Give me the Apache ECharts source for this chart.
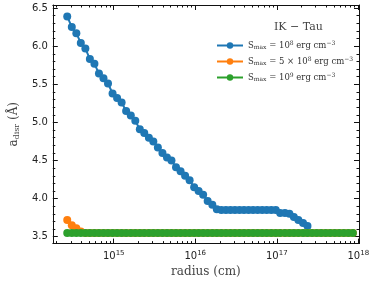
<!DOCTYPE html>
<html><head><meta charset="utf-8">
<script src="https://cdn.jsdelivr.net/npm/echarts@6/dist/echarts.min.js"></script>
<style>html,body{margin:0;padding:0;background:#fff}#c{width:374px;height:283px}</style>
</head><body><div id="c"></div>
<script>
var radius = [2.69e14, 3.06e14, 3.48e14, 3.95e14, 4.49e14, 5.10e14, 5.80e14, 6.59e14, 7.49e14, 8.51e14,
  9.68e14, 1.10e15, 1.25e15, 1.42e15, 1.62e15, 1.84e15, 2.09e15, 2.37e15, 2.70e15, 3.06e15,
  3.48e15, 3.96e15, 4.50e15, 5.11e15, 5.81e15, 6.61e15, 7.51e15, 8.53e15, 9.70e15, 1.10e16,
  1.25e16, 1.42e16, 1.62e16, 1.84e16, 2.09e16, 2.38e16, 2.70e16, 3.07e16, 3.49e16, 3.96e16,
  4.51e16, 5.12e16, 5.82e16, 6.62e16, 7.52e16, 8.55e16, 9.72e16, 1.10e17, 1.26e17, 1.43e17,
  1.62e17, 1.84e17, 2.10e17, 2.38e17, 2.71e17, 3.08e17, 3.50e17, 3.98e17, 4.52e17, 5.14e17,
  5.84e17, 6.64e17, 7.55e17, 8.58e17];
var adisr_1e8 = [6.39, 6.25, 6.17, 6.04, 5.97, 5.83, 5.77, 5.64, 5.58, 5.51,
  5.38, 5.32, 5.26, 5.15, 5.09, 5.02, 4.91, 4.86, 4.80, 4.75,
  4.67, 4.60, 4.54, 4.50, 4.41, 4.36, 4.30, 4.24, 4.15, 4.10,
  4.05, 3.97, 3.92, 3.86, 3.85, 3.85, 3.85, 3.85, 3.85, 3.85,
  3.85, 3.85, 3.85, 3.85, 3.85, 3.85, 3.85, 3.81, 3.81, 3.80,
  3.76, 3.72, 3.68, 3.64];
var adisr_5e8 = [3.72, 3.65, 3.61, 3.57, 3.55, 3.55, 3.55, 3.55, 3.55, 3.55,
  3.55, 3.55, 3.55, 3.55, 3.55, 3.55, 3.55, 3.55, 3.55, 3.55,
  3.55, 3.55, 3.55, 3.55, 3.55, 3.55, 3.55, 3.55, 3.55, 3.55,
  3.55, 3.55, 3.55, 3.55, 3.55, 3.55, 3.55, 3.55, 3.55, 3.55,
  3.55, 3.55, 3.55, 3.55, 3.55, 3.55, 3.55, 3.55, 3.55, 3.55,
  3.55, 3.55, 3.55, 3.55, 3.55, 3.55, 3.55, 3.55, 3.55, 3.55,
  3.55, 3.55, 3.55, 3.55];
var adisr_1e9 = [3.55, 3.55, 3.55, 3.55, 3.55, 3.55, 3.55, 3.55, 3.55, 3.55,
  3.55, 3.55, 3.55, 3.55, 3.55, 3.55, 3.55, 3.55, 3.55, 3.55,
  3.55, 3.55, 3.55, 3.55, 3.55, 3.55, 3.55, 3.55, 3.55, 3.55,
  3.55, 3.55, 3.55, 3.55, 3.55, 3.55, 3.55, 3.55, 3.55, 3.55,
  3.55, 3.55, 3.55, 3.55, 3.55, 3.55, 3.55, 3.55, 3.55, 3.55,
  3.55, 3.55, 3.55, 3.55, 3.55, 3.55, 3.55, 3.55, 3.55, 3.55,
  3.55, 3.55, 3.55, 3.55];
var seriesNames = ['S1e8', 'S5e8', 'S1e9'];
var legendLabels = {
  'S1e8': 'S{sub|max} = 10{sup|8} erg cm{sup|−3}',
  'S5e8': 'S{sub|max} = 5 × 10{sup|8} erg cm{sup|−3}',
  'S1e9': 'S{sub|max} = 10{sup|9} erg cm{sup|−3}'
};
var xMajorTicks = [1e15, 1e16, 1e17, 1e18];
var xMinorTicks = [2e14,3e14,4e14,5e14,6e14,7e14,8e14,9e14,
  2e15,3e15,4e15,5e15,6e15,7e15,8e15,9e15,
  2e16,3e16,4e16,5e16,6e16,7e16,8e16,9e16,
  2e17,3e17,4e17,5e17,6e17,7e17,8e17,9e17];
var yMajorTicks = [3.5, 4.0, 4.5, 5.0, 5.5, 6.0, 6.5];
var yMinorTicks = [3.6,3.7,3.8,3.9,4.1,4.2,4.3,4.4,4.6,4.7,4.8,4.9,5.1,5.2,5.3,5.4,5.6,5.7,5.8,5.9,6.1,6.2,6.3,6.4];
var colors = ['#1f77b4', '#ff7f0e', '#2ca02c'];

var XMIN = 1.79e14, XMAX = 1.02e18, YMIN = 3.41, YMAX = 6.54;
var serif = '"DejaVu Serif", serif';
var sans = '"DejaVu Sans", sans-serif';
var lineCol = '#111';

function pairs(vals) { return vals.map(function (v, i) { return [radius[i], v]; }); }

function xAx(pos, ticks, len, showLine, showLabel, extra) {
  var a = {
    type: 'log', logBase: 10, min: XMIN, max: XMAX, position: pos, gridIndex: 0,
    splitLine: { show: false },
    axisLine: { show: showLine, onZero: false, lineStyle: { color: lineCol, width: 1 } },
    axisTick: { show: true, inside: true, length: len, customValues: ticks, lineStyle: { color: lineCol, width: 1 } },
    axisLabel: { show: showLabel }
  };
  if (extra) for (var k in extra) a[k] = extra[k];
  return a;
}
function yAx(pos, ticks, len, showLine, showLabel, extra) {
  var a = {
    type: 'value', min: YMIN, max: YMAX, position: pos, gridIndex: 0,
    splitLine: { show: false },
    axisLine: { show: showLine, onZero: false, lineStyle: { color: lineCol, width: 1 } },
    axisTick: { show: true, inside: true, length: len, customValues: ticks, lineStyle: { color: lineCol, width: 1 } },
    axisLabel: { show: showLabel }
  };
  if (extra) for (var k in extra) a[k] = extra[k];
  return a;
}

var chart = echarts.init(document.getElementById('c'), null, { renderer: 'canvas' });
chart.setOption({
  animation: false,
  backgroundColor: '#fff',
  grid: { left: 43, right: 15, top: 5, bottom: 36, containLabel: false },
  title: {
    text: 'IK − Tau', left: 269, top: 17,
    textStyle: { fontFamily: serif, fontSize: 11, fontWeight: 'normal', color: '#444' }
  },
  legend: {
    orient: 'vertical', left: 211, top: 35, itemWidth: 26, itemHeight: 8, itemGap: 5.5,
    data: seriesNames,
    formatter: function (n) { return legendLabels[n]; },
    textStyle: {
      fontFamily: serif, fontSize: 8.5, color: '#333', padding: [0, 0, 0, 0],
      rich: {
        sub: { fontFamily: serif, fontSize: 6, padding: [4, 0, 0, 0], color: '#333' },
        sup: { fontFamily: serif, fontSize: 6, padding: [0, 0, 5, 0], color: '#333' }
      }
    }
  },
  xAxis: [
    xAx('bottom', xMajorTicks, 5, true, true, {
      name: 'radius (cm)', nameLocation: 'middle', nameGap: 22,
      nameTextStyle: { fontFamily: serif, fontSize: 12, color: '#444' },
      axisLabel: {
        show: true, customValues: xMajorTicks, margin: 6, color: '#222', fontFamily: sans, fontSize: 10,
        formatter: function (v) { return '10{sup|' + Math.round(Math.log10(v)) + '}'; },
        rich: { sup: { fontFamily: sans, fontSize: 7, padding: [0, 0, 6, 0], color: '#222' } }
      }
    }),
    xAx('bottom', xMinorTicks, 2.5, false, false),
    xAx('top', xMajorTicks, 5, true, false),
    xAx('top', xMinorTicks, 2.5, false, false)
  ],
  yAxis: [
    yAx('left', yMajorTicks, 5, true, true, {
      name: 'a{sub|disr} (Å)', nameLocation: 'middle', nameGap: 29, nameRotate: 90,
      nameTextStyle: {
        fontFamily: serif, fontSize: 12, color: '#444',
        rich: { sub: { fontFamily: serif, fontSize: 8, padding: [6, 0, 0, 0], color: '#444' } }
      },
      axisLabel: {
        show: true, customValues: yMajorTicks, margin: 5, color: '#222', fontFamily: sans, fontSize: 10,
        formatter: function (v) { return v.toFixed(1); }
      }
    }),
    yAx('left', yMinorTicks, 2.5, false, false),
    yAx('right', yMajorTicks, 5, true, false),
    yAx('right', yMinorTicks, 2.5, false, false)
  ],
  series: [adisr_1e8, adisr_5e8, adisr_1e9].map(function (vals, i) {
    return {
      name: seriesNames[i], type: 'line', xAxisIndex: 0, yAxisIndex: 0,
      data: pairs(vals), symbol: 'circle', symbolSize: 8, showSymbol: true,
      color: colors[i], lineStyle: { color: colors[i], width: 2 },
      itemStyle: { color: colors[i] }, z: 2 + i
    };
  })
});
</script></body></html>
